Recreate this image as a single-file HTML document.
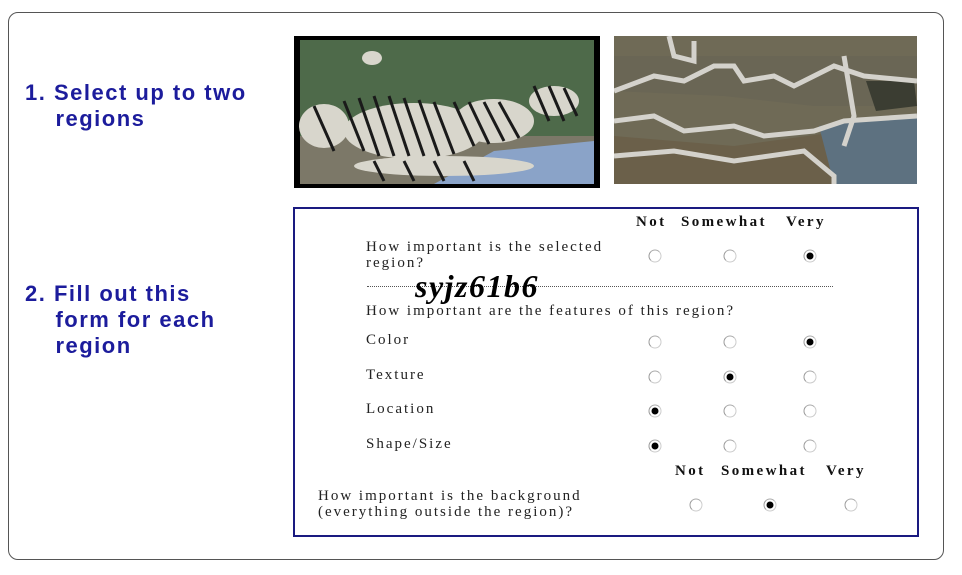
<!DOCTYPE html>
<html><head><meta charset="utf-8"><style>
body{margin:0;width:962px;height:575px;background:#fff;position:relative;overflow:hidden;font-family:"Liberation Serif",serif}
.a{position:absolute;white-space:nowrap}
.lt{color:#1c1c9c;font-family:"Liberation Sans",sans-serif;font-size:22px;letter-spacing:1.5px;line-height:26px;font-weight:bold}
.q{font-size:15px;letter-spacing:2px;color:#222;line-height:16px}
.h{font-size:15px;letter-spacing:2.4px;font-weight:bold;color:#111}
.r{position:absolute;width:13px;height:13px;border-radius:50%;border:1px solid #ccc;border-left-color:#999;border-top-color:#aaa;box-sizing:border-box;transform:translate(-50%,-50%)}
.r.on::after{content:"";position:absolute;left:2px;top:2px;width:7px;height:7px;border-radius:50%;background:#000}
</style></head><body>
<div class="a" style="left:8px;top:12px;width:934px;height:546px;border:1px solid #555;border-radius:10px"></div>
<div class="a lt" style="left:25px;top:80px">1. Select up to two<br>&nbsp;&nbsp;&nbsp;&nbsp;regions</div>
<div class="a lt" style="left:25px;top:281px">2. Fill out this<br>&nbsp;&nbsp;&nbsp;&nbsp;form for each<br>&nbsp;&nbsp;&nbsp;&nbsp;region</div>
<svg class="a" style="left:294px;top:36px" width="306" height="152">
<rect width="306" height="152" fill="#000"/>
<rect x="6" y="4" width="294" height="144" fill="#4e6a4a"/>
<rect x="6" y="100" width="294" height="48" fill="#7c7868"/>
<polygon points="200,115 300,105 300,148 140,148" fill="#8aa3c8"/>
<g fill="#d8d6cc">
<ellipse cx="120" cy="95" rx="70" ry="28"/><ellipse cx="200" cy="85" rx="40" ry="22"/><ellipse cx="260" cy="65" rx="25" ry="15"/><ellipse cx="30" cy="90" rx="25" ry="22"/><ellipse cx="78" cy="22" rx="10" ry="7"/>
<ellipse cx="150" cy="130" rx="90" ry="10"/></g>
<g stroke="#1a1a1a" stroke-width="3">
<line x1="20" y1="70" x2="40" y2="115"/><line x1="50" y1="65" x2="70" y2="115"/><line x1="65" y1="62" x2="85" y2="120"/><line x1="80" y1="60" x2="100" y2="120"/><line x1="95" y1="60" x2="115" y2="120"/><line x1="110" y1="62" x2="130" y2="120"/><line x1="125" y1="64" x2="145" y2="120"/><line x1="140" y1="66" x2="160" y2="118"/><line x1="160" y1="66" x2="180" y2="110"/><line x1="175" y1="66" x2="195" y2="108"/><line x1="190" y1="66" x2="210" y2="105"/><line x1="205" y1="66" x2="225" y2="102"/><line x1="240" y1="50" x2="255" y2="85"/><line x1="255" y1="50" x2="270" y2="85"/><line x1="270" y1="52" x2="283" y2="80"/>
<line x1="80" y1="125" x2="90" y2="145"/><line x1="110" y1="125" x2="120" y2="145"/><line x1="140" y1="125" x2="150" y2="145"/><line x1="170" y1="125" x2="180" y2="145"/></g>
</svg>
<svg class="a" style="left:614px;top:36px" width="303" height="148">
<rect width="303" height="148" fill="#6f6a56"/>
<polygon points="0,100 120,110 230,95 303,95 303,148 0,148" fill="#6b604a"/>
<polygon points="0,55 110,60 200,70 303,70 303,20 0,20" fill="#6a6655"/>
<polygon points="205,90 303,80 303,148 220,148" fill="#5d7180"/>
<polygon points="252,45 300,45 303,70 262,75" fill="#3b3d32"/>
<g fill="none" stroke="#d4d2cc" stroke-width="5">
<path d="M55,0 L60,20 L80,25 L80,5"/><path d="M0,55 L40,40 L70,45 L100,30 L120,30 L130,45 L160,40 L180,50 L220,30 L250,40 L303,45"/>
<path d="M0,85 L40,80 L70,95 L120,90 L150,100 L200,95 L230,85 L303,80"/>
<path d="M0,120 L60,115 L120,125 L190,115 L220,140 L220,148"/><path d="M230,20 L240,80 L230,110"/>
</g>
</svg>
<div class="a" style="left:293px;top:207px;width:622px;height:326px;border:2px solid #1a1a80"></div>
<div class="a h" style="left:636px;top:214px">Not</div>
<div class="a h" style="left:681px;top:214px">Somewhat</div>
<div class="a h" style="left:786px;top:214px">Very</div>
<div class="a q" style="left:366px;top:239px">How important is the selected<br>region?</div>
<div class="a" style="left:367px;top:286px;width:466px;border-top:1px dotted #555"></div>
<div class="a" style="left:415px;top:268px;font-size:32px;letter-spacing:1.5px;font-style:italic;font-weight:bold;color:#000">syjz61b6</div>
<div class="a q" style="left:366px;top:303px">How important are the features of this region?</div>
<div class="a q" style="left:366px;top:332px">Color</div>
<div class="a q" style="left:366px;top:367px">Texture</div>
<div class="a q" style="left:366px;top:401px">Location</div>
<div class="a q" style="left:366px;top:436px">Shape/Size</div>
<div class="a h" style="left:675px;top:463px">Not</div>
<div class="a h" style="left:721px;top:463px">Somewhat</div>
<div class="a h" style="left:826px;top:463px">Very</div>
<div class="a q" style="left:318px;top:488px">How important is the background<br>(everything outside the region)?</div>
<span class="r" style="left:655px;top:256px"></span>
<span class="r" style="left:730px;top:256px"></span>
<span class="r on" style="left:810px;top:256px"></span>
<span class="r" style="left:655px;top:342px"></span>
<span class="r" style="left:730px;top:342px"></span>
<span class="r on" style="left:810px;top:342px"></span>
<span class="r" style="left:655px;top:377px"></span>
<span class="r on" style="left:730px;top:377px"></span>
<span class="r" style="left:810px;top:377px"></span>
<span class="r on" style="left:655px;top:411px"></span>
<span class="r" style="left:730px;top:411px"></span>
<span class="r" style="left:810px;top:411px"></span>
<span class="r on" style="left:655px;top:446px"></span>
<span class="r" style="left:730px;top:446px"></span>
<span class="r" style="left:810px;top:446px"></span>
<span class="r" style="left:696px;top:505px"></span>
<span class="r on" style="left:770px;top:505px"></span>
<span class="r" style="left:851px;top:505px"></span>
</body></html>
